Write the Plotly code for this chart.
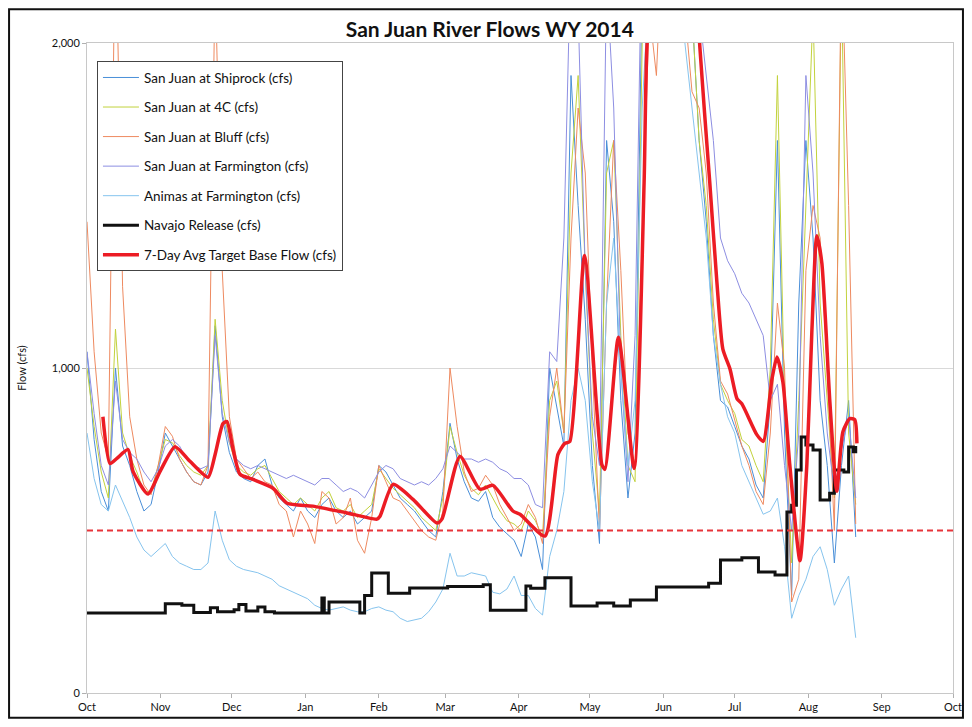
"""
San Juan River Flows WY 2014 - daily flows at gauges, Navajo release and 7-day target.
"""
import pandas as pd
import plotly.graph_objects as go

WY_START = pd.Timestamp("2013-10-01")
WY_END = pd.Timestamp("2014-10-01")

# shared 3-day grid (days since Oct 1) for the gauge series
GAUGE_DAYS = list(range(0, 325, 3))

SHIPROCK = [1050, 780, 620, 560, 1000, 760, 700, 620, 560, 580, 680,
            800, 760, 720, 680, 650, 640, 680, 1130, 850, 740,
            680, 660, 650, 700, 720, 640, 600, 580, 560, 600,
            560, 540, 580, 600, 560, 540, 560, 520, 540, 560,
            700, 680, 640, 600, 580, 560, 530, 500, 480, 620,
            830, 720, 650, 600, 590, 620, 540, 510, 490, 470,
            420, 520, 480, 380, 1000, 880, 760, 1900, 1500, 1150,
            700, 460, 1700, 1450, 900, 600, 800, 2200, 2300, 2600,
            2800, 2500, 2400, 2300, 2100, 1700, 1450, 1100, 900, 880,
            820, 760, 720, 640, 600, 900, 1700, 800, 300, 1200,
            1700, 1400, 900, 700, 400, 700, 900, 480]
FOUR_C = [1000, 820, 680, 600, 1120, 800, 730, 680, 620, 620, 700,
          780, 770, 730, 700, 680, 670, 700, 1150, 900, 770,
          700, 680, 670, 690, 700, 660, 620, 600, 580, 600,
          580, 560, 600, 620, 570, 560, 580, 540, 560, 580,
          690, 660, 630, 610, 590, 570, 540, 520, 500, 600,
          820, 740, 670, 630, 610, 640, 600, 560, 530, 520,
          500, 560, 530, 480, 900, 960, 800, 1600, 1900, 1300,
          800, 550, 1600, 1700, 1100, 700, 650, 2000, 2200, 2500,
          2700, 2400, 2300, 2400, 2100, 1700, 1500, 1150, 950, 900,
          860, 780, 760, 700, 650, 1000, 1900, 900, 400, 900,
          1500, 2100, 1200, 900, 600, 2200, 800, 580]
BLUFF = [1450, 1050, 800, 720, 2400, 1250, 850, 720, 640, 610, 700,
         820, 790, 720, 680, 650, 640, 700, 2200, 1300, 850,
         720, 690, 660, 680, 650, 640, 580, 560, 480, 560,
         520, 460, 620, 600, 520, 540, 600, 470, 430, 540,
         700, 650, 600, 590, 560, 530, 500, 480, 470, 560,
         1000, 820, 680, 620, 630, 670, 640, 580, 540, 500,
         520, 580, 540, 460, 850, 1000, 800, 1400, 1800, 1600,
         1000, 500, 1200, 1700, 1300, 800, 700, 1400, 2100, 1900,
         2400, 2600, 2300, 2100, 1850, 1800, 1600, 1200, 960, 920,
         840, 760, 700, 620, 580, 800, 1200, 1000, 280, 350,
         1300, 1500, 1400, 1000, 500, 2300, 1500, 520]
FARMINGTON = [1050, 860, 700, 640, 960, 780, 740, 720, 680, 650, 690,
              760, 780, 760, 720, 700, 690, 700, 1100, 860, 770,
              720, 700, 690, 700, 690, 680, 670, 660, 670, 660,
              650, 640, 660, 660, 640, 620, 630, 620, 600, 640,
              680, 700, 690, 660, 650, 640, 650, 640, 660, 690,
              760, 740, 720, 720, 710, 720, 710, 690, 680, 660,
              660, 640, 580, 570, 1050, 1020, 1400, 2300, 2100, 1300,
              850, 700, 2200, 1800, 1000, 650, 1100, 2400, 2600, 2900,
              3000, 2700, 2500, 2600, 2400, 2100, 1900, 1700, 1400, 1330,
              1290, 1230, 1200, 1150, 1100, 900, 950, 700, 500, 800,
              1900, 1600, 1100, 800, 620, 750, 850, 600]
ANIMAS = [800, 660, 580, 560, 640, 590, 540, 480, 440, 420, 440,
          460, 420, 400, 390, 380, 380, 400, 560, 470, 410,
          390, 380, 375, 370, 360, 350, 330, 320, 310, 300,
          290, 270, 260, 255, 260, 265, 255, 250, 250, 260,
          265, 255, 250, 230, 220, 225, 230, 250, 280, 320,
          430, 360, 360, 370, 365, 360, 310, 305, 320, 360,
          300, 300, 260, 240, 420, 500, 620, 900, 1000, 900,
          650, 500, 1200, 1400, 1000, 700, 900, 1800, 2200, 2600,
          2800, 2300, 2200, 2000, 1800, 1600, 1400, 1100, 950, 850,
          800, 700, 650, 600, 550, 560, 600, 450, 230, 300,
          350, 420, 450, 380, 270, 320, 360, 170]

# Navajo release, step levels starting at each day
NAVAJO_DAYS = [0, 33, 40, 45, 52, 55, 62, 64, 67, 72, 75, 79, 99, 100, 102,
               115, 117, 120, 127, 136, 152, 167, 170, 185, 187, 193, 204,
               215, 222, 229, 240, 262, 267, 276, 283, 290, 295, 297, 299,
               301, 303, 306, 309, 313, 315, 319, 321, 323, 324]
NAVAJO = [246, 275, 270, 248, 262, 250, 256, 272, 252, 265, 250, 246, 292, 246, 280,
          246, 300, 369, 307, 323, 328, 333, 255, 329, 322, 355, 268,
          277, 268, 286, 326, 338, 409, 416, 372, 363, 557, 578, 686,
          788, 763, 748, 594, 615, 686, 680, 757, 742, 760]

# 7-day average target base flow
TARGET_DAYS = [6.7, 9.7, 12.6, 17.3, 19.4, 25.7, 30.8, 37.1, 43.4, 51, 54, 57.3,
               59, 61.5, 64.5, 70, 78.4, 84.3, 95.2, 109.6, 122.2, 123.5, 129,
               137.4, 147.5, 149.6, 157.2, 165.6, 171.1, 179.5, 182.5, 193,
               198.5, 201.4, 203.5, 209.7, 217, 218.3, 224, 230.6, 234.8, 236,
               242, 248, 254, 258.3, 262.5, 265.5, 268, 271, 274, 276, 282.3,
               285, 288.7, 290.8, 293.3, 296.2, 300.5, 303.4, 305.5, 307.6,
               309.7, 313.1, 316, 318.6, 321.5, 323.6, 324.5]
TARGET = [850, 706, 722, 749, 682, 612, 682, 758, 713, 664, 734, 829,
          835, 752, 673, 657, 630, 584, 575, 554, 535, 544, 642,
          596, 523, 535, 728, 627, 639, 560, 550, 483,
          734, 768, 774, 1346, 703, 688, 1095, 691, 1569, 1988,
          2600, 2900, 2600, 1988, 1569, 1263, 1058, 997, 905, 890, 795,
          774, 966, 1034, 957, 703, 407, 703, 1110, 1407,
          1324, 896, 621, 804, 844, 841, 768]

BASE_FLOW = 500
MONTH_TICKS = pd.date_range(WY_START, WY_END, freq="MS")


def to_dates(days):
    return WY_START + pd.to_timedelta(days, unit="D")


FONT = "Lato"
gauges = [
    ("San Juan at Shiprock (cfs)", SHIPROCK, "#4a8fd8"),
    ("San Juan at 4C (cfs)", FOUR_C, "#c2d23c"),
    ("San Juan at Bluff (cfs)", BLUFF, "#ee8a60"),
    ("San Juan at Farmington (cfs)", FARMINGTON, "#8d8ee2"),
    ("Animas at Farmington (cfs)", ANIMAS, "#86c4ee"),
]

fig = go.Figure()
gx = to_dates(GAUGE_DAYS)
for i, (name, vals, color) in enumerate(gauges):
    fig.add_trace(go.Scatter(x=gx, y=vals, name=name, mode="lines",
                             line=dict(color=color, width=1),
                             legendgroup=f"g{i}"))

fig.add_trace(go.Scatter(x=to_dates(NAVAJO_DAYS), y=NAVAJO, name="Navajo Release (cfs)",
                         mode="lines", line=dict(color="#111111", width=3, shape="hv"),
                         legendgroup="g5"))
fig.add_trace(go.Scatter(x=to_dates(TARGET_DAYS), y=TARGET,
                         name="7-Day Avg Target Base Flow (cfs)", mode="lines",
                         line=dict(color="#ec1c24", width=3.5, shape="spline", smoothing=0.6),
                         legendgroup="g6"))
fig.add_trace(go.Scatter(x=[WY_START, WY_END], y=[BASE_FLOW, BASE_FLOW], mode="lines",
                         line=dict(color="#e8343a", width=2, dash="6px,4px"),
                         showlegend=False, hoverinfo="skip"))

# page body adds an 8px margin, so the figure is a bit smaller than the window
fig.update_layout(
    width=956, height=711,
    margin=dict(l=79, r=11, t=35, b=26),
    paper_bgcolor="white", plot_bgcolor="white",
    font=dict(family=FONT, size=11, color="#111111"),
    title=dict(text="<b>San Juan River Flows WY 2014</b>", x=0.504, xanchor="center",
               y=0.969, yanchor="middle", automargin=False,
               font=dict(family=FONT, size=21, color="#111111")),
    legend=dict(x=0.0115, y=0.972, xanchor="left", yanchor="top",
                bgcolor="white", bordercolor="#444444", borderwidth=1,
                tracegroupgap=9, font=dict(family=FONT, size=13.5),
                itemwidth=36),
    showlegend=True,
    shapes=[dict(type="rect", xref="paper", yref="paper",
                 x0=-0.0900, x1=1.0115, y0=-0.038, y1=1.052,
                 line=dict(color="#111111", width=2), layer="below")],
)
fig.update_xaxes(range=[WY_START, WY_END], tickvals=MONTH_TICKS,
                 ticktext=[d.strftime("%b") for d in MONTH_TICKS],
                 showgrid=False, showline=True, linecolor="#c8c8c8", mirror=True,
                 ticks="outside", ticklen=4, tickcolor="#b0b0b0",
                 tickfont=dict(size=11), zeroline=False, automargin=False)
fig.update_yaxes(range=[0, 2000], tickvals=[0, 1000, 2000], tickformat=",d",
                 showgrid=True, gridcolor="#d9d9d9", showline=True, linecolor="#c8c8c8",
                 mirror=True, ticks="outside", ticklen=4, tickcolor="#b0b0b0",
                 title=dict(text="Flow (cfs)", font=dict(size=11), standoff=22),
                 tickfont=dict(size=11), zeroline=False, automargin=False)

fig.write_html("out.html")
